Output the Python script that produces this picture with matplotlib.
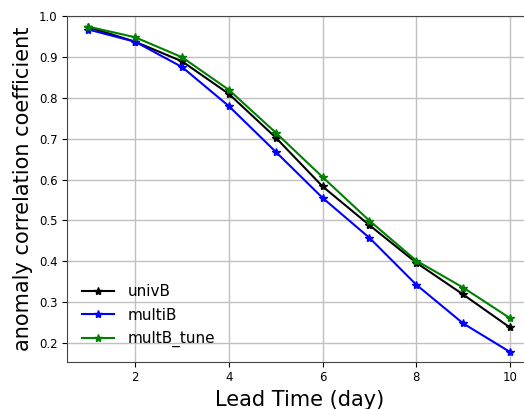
import matplotlib
matplotlib.use('Agg')
import matplotlib.pyplot as plt

lead_days = [1, 2, 3, 4, 5, 6, 7, 8, 9, 10]
univB = [0.974, 0.938, 0.890, 0.810, 0.703, 0.583, 0.488, 0.396, 0.318, 0.237]
multiB = [0.968, 0.938, 0.876, 0.780, 0.668, 0.555, 0.457, 0.342, 0.247, 0.177]
multB_tune = [0.975, 0.949, 0.900, 0.820, 0.715, 0.606, 0.499, 0.401, 0.335, 0.260]

fig = plt.figure(figsize=(5.24, 4.09), dpi=100)
ax = fig.add_axes([0.1284, 0.1156, 0.885, 0.8441])

ax.plot(lead_days, univB, 'k-*', linewidth=1.5, markersize=6, label='univB')
ax.plot(lead_days, multiB, 'b-*', linewidth=1.5, markersize=6, label='multiB')
ax.plot(lead_days, multB_tune, '-*', color='green', linewidth=1.5, markersize=6, label='multB_tune')

ax.set_xlim(0.55, 10.45)
ax.set_ylim(0.153, 1.0)
ax.set_xticks([2, 4, 6, 8, 10])
ax.tick_params(labelsize=8.5)
ax.grid(True, color='#c0c0c0', linewidth=1)
ax.set_xlabel('Lead Time (day)', fontsize=15)
ax.set_ylabel('anomaly correlation coefficient', fontsize=15)
ax.legend(loc='lower left', frameon=False, fontsize=11, handlelength=2.1,
          handletextpad=0.9, borderaxespad=0.55, labelspacing=0.55)

for s in ax.spines.values():
    s.set_color('#444444')

fig.savefig('out.png', dpi=100)
